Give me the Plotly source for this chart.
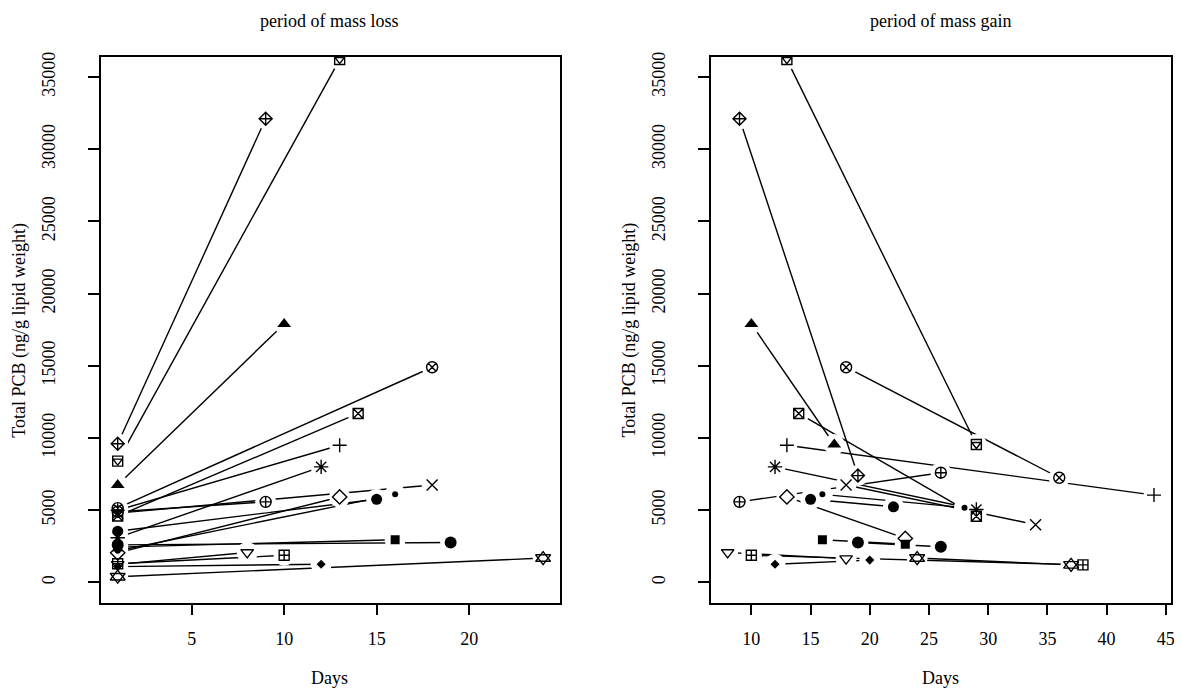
import plotly.graph_objects as go

# ---------------- data ----------------
individuals = ["pch9", "pch14", "pch17", "pch13", "pch7", "pch3", "pch8", "pch4", "pch10",
               "pch5", "pch16", "pch20", "pch15", "pch19", "pch6", "pch12", "pch18", "pch11"]

# period of mass loss: first sample (day 1) -> second sample
loss_day_start = [1, 1, 1, 1, 1, 1, 1, 1, 1, 1, 1, 1, 1, 1, 1, 1, 1, 1]
loss_pcb_start = [9600, 8400, 6750, 5150, 4600, 5000, 3100, 4800, 4900,
                  2050, 3550, 2200, 2450, 2600, 1250, 1300, 1100, 400]
loss_day_end = [9, 13, 10, 18, 14, 13, 12, 18, 9, 13, 15, 16, 16, 19, 8, 10, 12, 24]
loss_pcb_end = [32100, 36200, 17900, 14900, 11700, 9500, 8000, 6750, 5580,
                5920, 5760, 6100, 2960, 2770, 2080, 1880, 1260, 1690]

# period of mass gain: start sample -> end sample
gain_day_start = [9, 13, 10, 18, 14, 13, 12, 18, 9, 13, 15, 16, 16, 19, 8, 10, 12, 24]
gain_pcb_start = [32100, 36200, 17900, 14900, 11700, 9500, 8000, 6750, 5580,
                  5920, 5760, 6100, 2960, 2770, 2080, 1880, 1260, 1690]
gain_day_end = [19, 29, 17, 36, 29, 44, 29, 34, 26, 23, 22, 28, 23, 26, 18, 38, 20, 37]
gain_pcb_end = [7400, 9550, 9550, 7250, 4580, 6050, 5050, 4000, 7600,
                3050, 5240, 5180, 2650, 2470, 1650, 1220, 1550, 1220]

x_ticks_loss = [5, 10, 15, 20]
x_ticks_gain = [10, 15, 20, 25, 30, 35, 40, 45]
y_ticks = [0, 5000, 10000, 15000, 20000, 25000, 30000, 35000]
y_tick_text = [str(v) for v in y_ticks]
y_limits = [0, 35000]

titles = ["period of mass loss", "period of mass gain"]
x_title = "Days"
y_title = "Total PCB (ng/g lipid weight)"

# ---------------- styles / layout ----------------
W, H = 1182, 690
OFF = 8  # the page body margin shifts the figure by this many pixels
FONT = "Liberation Serif"

STYLE = {
    "pch9":  [("diamond-cross-open", 10)],
    "pch14": [("square-open", 10), ("triangle-down-open", 8)],
    "pch17": [("triangle-up", 12)],
    "pch13": [("circle-x-open", 11)],
    "pch7":  [("square-x-open", 10)],
    "pch3":  [("cross-thin-open", 10)],
    "pch8":  [("asterisk-open", 12)],
    "pch4":  [("x-thin-open", 11)],
    "pch10": [("circle-cross-open", 11)],
    "pch5":  [("diamond-open", 11)],
    "pch16": [("circle", 11)],
    "pch20": [("circle", 6)],
    "pch15": [("square", 9)],
    "pch19": [("circle", 12)],
    "pch6":  [("triangle-down-open", 11)],
    "pch12": [("square-cross-open", 10)],
    "pch18": [("diamond", 7)],
    "pch11": [("triangle-up-open", 13), ("triangle-down-open", 13)],
}


def px(x):
    return (x - OFF) / W


def py(y):
    return 1 - (y - OFF) / H


fig = go.Figure()

panels = [
    ("x", "y", loss_day_start, loss_pcb_start, loss_day_end, loss_pcb_end),
    ("x2", "y2", gain_day_start, gain_pcb_start, gain_day_end, gain_pcb_end),
]

for xa, ya, d0, v0, d1, v1 in panels:
    # connecting lines
    for i in range(len(individuals)):
        fig.add_trace(go.Scatter(
            x=[d0[i], d1[i]], y=[v0[i], v1[i]], mode="lines",
            line=dict(color="black", width=1.4),
            xaxis=xa, yaxis=ya, hoverinfo="skip", showlegend=False))
    # white gaps around points (type = "b" look)
    fig.add_trace(go.Scatter(
        x=list(d0) + list(d1), y=list(v0) + list(v1), mode="markers",
        marker=dict(symbol="circle", size=21, color="white", line=dict(width=0)),
        xaxis=xa, yaxis=ya, hoverinfo="skip", showlegend=False))
    # point symbols
    for i, name in enumerate(individuals):
        for sym, size in STYLE[name]:
            filled = not sym.endswith("-open")
            fig.add_trace(go.Scatter(
                x=[d0[i], d1[i]], y=[v0[i], v1[i]], mode="markers",
                marker=dict(symbol=sym, size=size, color="black",
                            line=dict(color="black", width=0 if filled else 1.4)),
                xaxis=xa, yaxis=ya, name=name, showlegend=False))

axis_common = dict(
    showline=True, linecolor="black", linewidth=1.5, mirror=True,
    ticks="outside", ticklen=11, tickwidth=1.5, tickcolor="black",
    showgrid=False, zeroline=False,
    tickfont=dict(family=FONT, size=18, color="black"),
)
pad = 0.04 * (y_limits[1] - y_limits[0])
y_range = [y_limits[0] - pad, y_limits[1] + pad]
y_dom = [py(602), py(52)]


def padded(vals):
    lo, hi = min(vals), max(vals)
    p = 0.04 * (hi - lo)
    return [lo - p, hi + p]


fig.update_layout(
    width=W, height=H, margin=dict(l=0, r=0, t=0, b=0),
    paper_bgcolor="white", plot_bgcolor="white",
    font=dict(family=FONT, size=18, color="black"),
    xaxis=dict(axis_common, domain=[px(101), px(562)],
               range=padded(loss_day_start + loss_day_end),
               tickvals=x_ticks_loss, ticklabelstandoff=8, anchor="y"),
    yaxis=dict(axis_common, domain=y_dom, range=y_range, tickvals=y_ticks,
               ticktext=y_tick_text, tickangle=-90, ticklabelstandoff=26, anchor="x"),
    xaxis2=dict(axis_common, domain=[px(713), px(1175)],
                range=padded(gain_day_start + gain_day_end),
                tickvals=x_ticks_gain, ticklabelstandoff=8, anchor="y2"),
    yaxis2=dict(axis_common, domain=y_dom, range=y_range, tickvals=y_ticks,
                ticktext=y_tick_text, tickangle=-90, ticklabelstandoff=26, anchor="x2"),
)

ann = []
for cx, t in zip([331, 944], titles):
    ann.append(dict(text=t, x=px(cx), y=py(16), xref="paper", yref="paper",
                    showarrow=False, xanchor="center", yanchor="middle",
                    font=dict(family=FONT, size=18, color="black")))
    ann.append(dict(text=x_title, x=px(cx), y=py(678), xref="paper", yref="paper",
                    showarrow=False, xanchor="center", yanchor="middle",
                    font=dict(family=FONT, size=18, color="black")))
for cx in [20, 632]:
    ann.append(dict(text=y_title, x=px(cx), y=py(327), xref="paper", yref="paper",
                    showarrow=False, xanchor="center", yanchor="middle", textangle=-90,
                    font=dict(family=FONT, size=18, color="black")))
fig.update_layout(annotations=ann)

fig.write_html("out.html")
